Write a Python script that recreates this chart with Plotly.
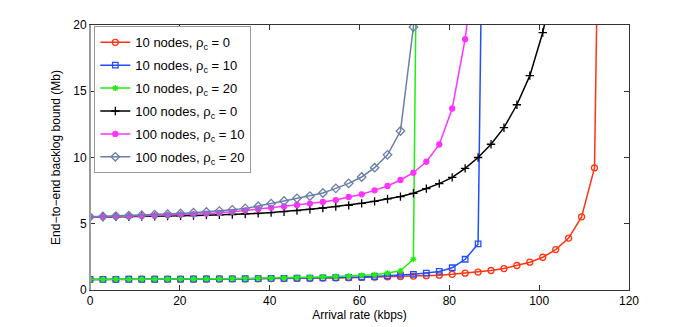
import plotly.graph_objects as go

# Arrival rate (kbps) sample points
rate = [0, 2.88, 5.76, 8.64, 11.52, 14.4, 17.28, 20.16, 23.04, 25.92, 28.8,
        31.68, 34.56, 37.44, 40.32, 43.2, 46.08, 48.96, 51.84, 54.72, 57.6,
        60.48, 63.36, 66.24, 69.12, 72.0, 74.88, 77.76, 80.64, 83.52, 86.4,
        89.28, 92.16, 95.04, 97.92, 100.8, 103.68, 106.56, 109.44, 112.32, 115.2]

n10_rho0 = [0.80, 0.80, 0.80, 0.81, 0.81, 0.81, 0.82, 0.82, 0.82, 0.83, 0.83, 0.84,
            0.84, 0.85, 0.86, 0.86, 0.87, 0.88, 0.90, 0.91, 0.93, 0.95, 0.97,
            1.00, 1.02, 1.05, 1.08, 1.12, 1.18, 1.27, 1.35, 1.47, 1.62, 1.85, 2.10,
            2.47, 3.05, 3.92, 5.52, 9.22, 75.0]
n10_rho10 = [0.80, 0.80, 0.80, 0.81, 0.81, 0.81, 0.82, 0.82, 0.83, 0.83, 0.84, 0.84,
             0.85, 0.86, 0.87, 0.88, 0.89, 0.90, 0.92,
             0.93, 0.95, 0.98, 1.02, 1.07, 1.12, 1.18, 1.28, 1.40, 1.68, 2.32, 3.48, 80.0]
n10_rho20 = [0.80, 0.80, 0.81, 0.81, 0.81, 0.82, 0.82, 0.83, 0.83, 0.84, 0.85, 0.86,
             0.87, 0.88, 0.89, 0.91, 0.93, 0.95, 0.98, 1.01, 1.05, 1.10, 1.16, 1.28,
             1.45, 2.32, 100.0]
n100_rho0 = [5.50, 5.51, 5.52, 5.53, 5.55, 5.56, 5.58, 5.60, 5.62, 5.65, 5.67, 5.70,
             5.74, 5.78, 5.84, 5.91, 5.99, 6.09, 6.19, 6.29, 6.39, 6.54, 6.69, 6.87,
             7.05, 7.30, 7.65, 8.03, 8.50, 9.18, 10.0, 11.0, 12.25, 13.98, 16.18,
             19.43, 24.0]
n100_rho10 = [5.50, 5.52, 5.54, 5.56, 5.58, 5.61, 5.64, 5.67, 5.71, 5.76, 5.82, 5.90,
              6.00, 6.10, 6.20, 6.31, 6.42, 6.52, 6.64, 6.79, 7.02, 7.22, 7.52, 7.85,
              8.30, 8.85, 9.68, 10.98, 13.70, 18.93, 27.0]
n100_rho20 = [5.52, 5.55, 5.58, 5.61, 5.65, 5.69, 5.73, 5.78, 5.83, 5.89, 5.96, 6.05,
              6.16, 6.32, 6.52, 6.72, 6.92, 7.09, 7.32, 7.67, 8.05, 8.53, 9.23, 10.20,
              12.00, 19.85, 45.0]

names = ["10 nodes, ρ<sub>c</sub> = 0", "10 nodes, ρ<sub>c</sub> = 10",
         "10 nodes, ρ<sub>c</sub> = 20", "100 nodes, ρ<sub>c</sub> = 0",
         "100 nodes, ρ<sub>c</sub> = 10", "100 nodes, ρ<sub>c</sub> = 20"]
series = [n10_rho0, n10_rho10, n10_rho20, n100_rho0, n100_rho10, n100_rho20]
colors = ["#ff3311", "#1f4fff", "#22ee11", "#000000", "#ff33ff", "#6a7fa8"]
symbols = ["circle-open", "square-open", "asterisk-open", "cross-thin-open",
           "circle", "diamond-open"]
sizes = [6, 5.5, 5, 6, 5, 6.5]

fig = go.Figure()
for nm, ys, c, s, sz in zip(names, series, colors, symbols, sizes):
    fig.add_trace(go.Scatter(
        x=rate[:len(ys)], y=ys, name=nm, mode="lines+markers",
        line=dict(color=c, width=1.5),
        marker=dict(symbol=s, size=sz, color=c, line=dict(color=c, width=1.3)),
        legendgroup=nm,
    ))

axis_font = dict(family="Liberation Sans, Arial, sans-serif", size=12, color="#000")
fig.update_layout(
    width=684, height=319,
    margin=dict(l=82, r=63, t=17, b=37, autoexpand=False),
    paper_bgcolor="white", plot_bgcolor="white",
    font=axis_font,
    showlegend=True,
    legend=dict(x=0.008, y=0.995, xanchor="left", yanchor="top",
                bgcolor="white", bordercolor="#999999", borderwidth=1,
                font=dict(family="Liberation Sans, Arial, sans-serif", size=13),
                tracegroupgap=3, itemwidth=30),
    xaxis=dict(range=[0, 120], tickvals=[0, 20, 40, 60, 80, 100, 120],
               ticks="inside", ticklen=5, tickcolor="#333", showgrid=False,
               zeroline=False, showline=True, linecolor="#333", linewidth=1,
               mirror="ticks", tickfont=axis_font, automargin=False,
               title=dict(text="Arrival rate (kbps)", font=axis_font, standoff=3)),
    yaxis=dict(range=[0, 20], tickvals=[0, 5, 10, 15, 20],
               ticks="inside", ticklen=5, tickcolor="#333", showgrid=False,
               zeroline=False, showline=True, linecolor="#333", linewidth=1,
               mirror="ticks", tickfont=axis_font, automargin=False,
               title=dict(text="End−to−end backlog bound (Mb)", font=axis_font,
                          standoff=10)),
    shapes=[dict(type="line", xref="paper", yref="paper", x0=0, x1=0, y0=0, y1=1,
                 line=dict(color="#9a9a9a", width=2), layer="above")],
)

fig.write_html("out.html")
